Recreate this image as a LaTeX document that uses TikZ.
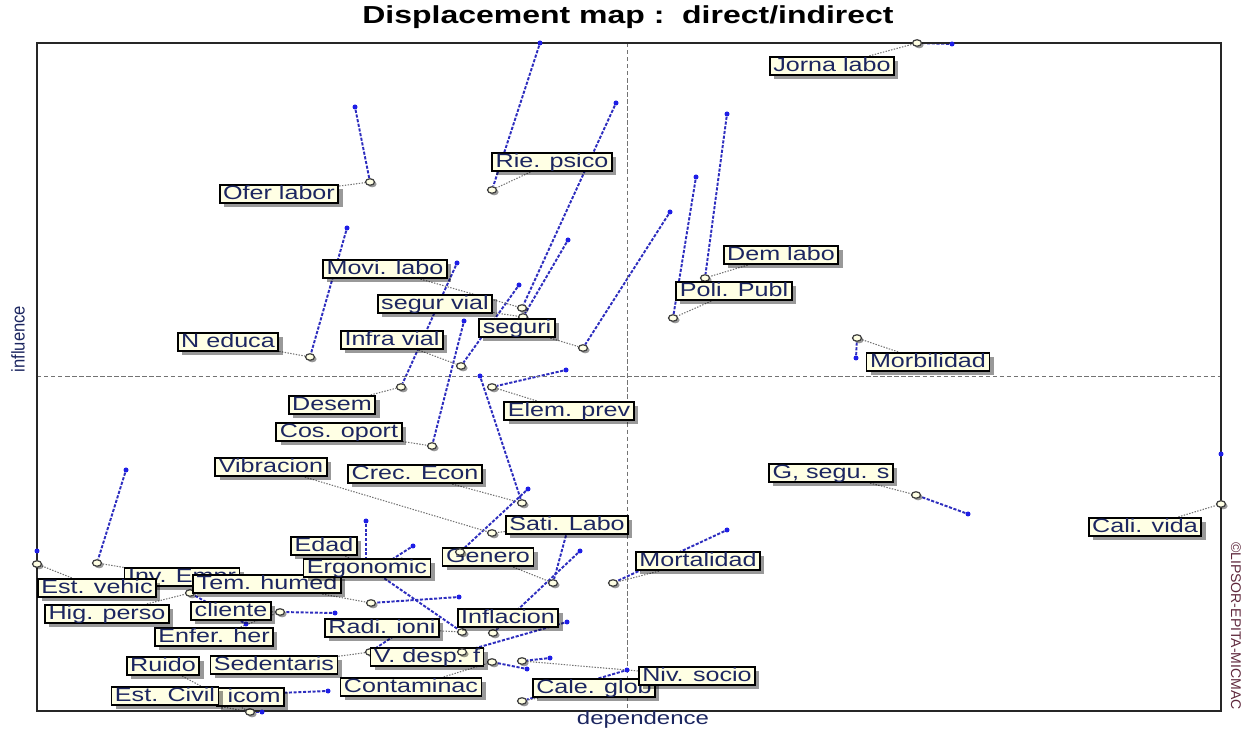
\documentclass[tikz,border=0pt]{standalone}
\usepackage{graphicx}
\usepackage{fontspec}
\setmainfont{Liberation Sans}
\newfontfamily\wideLS[FakeStretch=1.3]{Liberation Sans}
\usetikzlibrary{shapes.geometric,shadows,backgrounds}
\definecolor{labfill}{RGB}{255,255,228}
\definecolor{labtext}{RGB}{28,38,96}
\definecolor{dotblue}{RGB}{30,30,230}
\definecolor{lineblue}{RGB}{45,45,190}
\definecolor{copytext}{RGB}{95,40,60}
\tikzset{
  lab/.style={draw=black, line width=1pt, fill=labfill, text=labtext,
    font=\wideLS\fontsize{11}{13}\selectfont, inner xsep=2pt, inner ysep=0pt,
    text height=8.2pt, text depth=2.3pt,
    drop shadow={shadow xshift=2.4pt, shadow yshift=-2.4pt, fill=black, opacity=0.4}},
  ind/.style={ellipse, draw=black!75, line width=0.7pt, fill=labfill, inner sep=0pt,
    minimum width=0.18cm, minimum height=0.13cm,
    drop shadow={shadow xshift=1.2pt, shadow yshift=-1.2pt, fill=black, opacity=0.4}},
  dir/.style={circle, fill=dotblue, inner sep=0pt, minimum size=0.1cm},
  disp/.style={lineblue, line width=1.1pt, dash pattern=on 1.8pt off 0.9pt},
  lead/.style={black!55, line width=0.6pt, dash pattern=on 0.8pt off 0.8pt},
  quad/.style={black!55, line width=0.5pt, dash pattern=on 2.5pt off 1.5pt},
  frame/.style={black!85, line width=1.1pt}
}
\begin{document}
\begin{tikzpicture}[x=0.02cm,y=-0.02cm]
\useasboundingbox (0,0) rectangle (1247,732);
% frame and quadrant lines
\draw[quad] (627,43) -- (627,711);
\draw[quad] (37,376) -- (1221,376);
\draw[frame] (37,43) rectangle (1221,711);
% titles
\node[font=\wideLS\bfseries\fontsize{14}{16}\selectfont] (title) at (628,17) {Displacement map :~~direct/indirect};
\node[font=\wideLS\fontsize{10.5}{12}\selectfont, text=labtext] (xlab) at (643,720) {dependence};
\node[rotate=90, font=\fontsize{10.5}{12}\selectfont, text=labtext] (ylab) at (18,339) {\scalebox{0.9}[1]{influence}};
\node[rotate=-90, font=\fontsize{8}{9}\selectfont, text=copytext] (copy) at (1236,626) {\textcopyright LIPSOR-EPITA-MICMAC};
% indirect positions
\foreach \n/\x/\y in {ofer/370/182, rie/492/190, neduca/310/357, movi/522/308, segvial/523/317,
  seguri/583/348, infra/461/366, desem/401/387, cos/432/446, elem/492/387, crec/522/503,
  vibra/492/533, jorna/917/43, dem/705/278, poli/673/318, morb/857/338, gsegu/916/495,
  cali/1221/504, mortal/613/583, estveh/37/564, inv/97/563, temh/371/603, edad/366/566,
  ergo/388/562, cliente/280/612, hig/190/593, ruido/250/712, icom/278/693, sedent/370/652,
  radi/462/632, infl/493/633, sati/553/583, contam/492/662, niv/522/661, cale/522/701}
  \node[ind] (c\n) at (\x,\y) {};
% direct positions
\foreach \n/\x/\y in {ofer/355/107, rie/540/43, neduca/347/228, movi/616/103, segvial/568/240,
  seguri/670/212, infra/519/285, desem/457/263, cos/464/321, elem/566/370, crec/480/376,
  jorna/952/44, dem/727/114, poli/696/177, morb/856/358, gsegu/968/514, cali/1221/454,
  mortal/727/530, estveh/37/551, inv/126/470, temh/459/597, edad/366/521, ergo/413/546,
  cliente/335/613, hig/246/624, ruido/262/712, icom/328/691, sedent/400/632, radi/378/574,
  infl/580/551, sati/568/528, contam/527/669, niv/550/658, cale/627/670, genero/528/489,
  vdesp/567/622}
  \node[dir] (d\n) at (\x,\y) {};
% labels
\node[lab] (lofer) at (279,194) {Ofer labor};
\node[lab] (lrie) at (552,162) {Rie. psico};
\node[lab] (lneduca) at (228,342) {N educa};
\node[lab] (lmovi) at (385,269) {Movi. labo};
\node[lab] (lsegvial) at (435,304) {segur vial};
\node[lab] (lseguri) at (517,328) {seguri};
\node[lab] (linfra) at (392,340) {Infra vial};
\node[lab] (ldesem) at (332,405) {Desem};
\node[lab] (lcos) at (339,432) {Cos. oport};
\node[lab] (lelem) at (569,411) {Elem. prev};
\node[lab] (lcrec) at (415,474) {Crec. Econ};
\node[lab] (lvibra) at (271,467) {Vibracion};
\node[lab] (ljorna) at (832,66) {Jorna labo};
\node[lab] (ldem) at (781,255) {Dem labo};
\node[lab] (lpoli) at (734,291) {Poli. Publ};
\node[lab] (lmorb) at (928,362) {Morbilidad};
\node[lab] (lgsegu) at (831,473) {G, segu. s};
\node[lab] (lcali) at (1145,527) {Cali. vida};
\node[lab] (lmortal) at (698,561) {Mortalidad};
\node[lab] (lsati) at (567,525) {Sati. Labo};
\node[lab] (lgenero) at (488,557) {Genero};
\node[lab] (ledad) at (324,546) {Edad};
\node[lab] (linv) at (182,577) {Inv. Empr};
\node[lab] (lestveh) at (97,588) {Est. vehic};
\node[lab] (ltemh) at (267,584) {Tem. humed};
\node[lab] (lergo) at (367,568) {Ergonomic};
\node[lab] (lhig) at (107,614) {Hig. perso};
\node[lab] (lcliente) at (231,611) {cliente};
\node[lab] (lenfer) at (214,637) {Enfer. her};
\node[lab] (lradi) at (382,628) {Radi. ioni};
\node[lab] (linfl) at (508,618) {Inflacion};
\node[lab] (lruido) at (163,666) {Ruido};
\node[lab] (lsedent) at (274,665) {Sedentaris};
\node[lab] (lvdesp) at (427,657) {V. desp. f};
\node[lab] (lcontam) at (411,687) {Contaminac};
\node[lab] (lcale) at (594,688) {Cale. glob};
\node[lab] (lniv) at (697,676) {Niv. socio};
\node[lab, text width=1.2cm, align=right, anchor=east] (licom) at (285,697) {icom};
\node[lab] (lcivil) at (165,696) {Est. Civil};
% markers lying on top of labels
\foreach \n/\x/\y in {genero/460/552, vdesp/462/652}
  \node[ind] (c\n) at (\x,\y) {};
% displacements and leaders
\begin{scope}[on background layer]
\foreach \n in {ofer,rie,neduca,movi,segvial,seguri,infra,desem,cos,elem,crec,jorna,dem,
  poli,morb,gsegu,cali,mortal,estveh,inv,temh,edad,ergo,cliente,hig,ruido,icom,sedent,
  radi,infl,sati,contam,niv,cale,genero,vdesp}
  \draw[disp] (d\n) -- (c\n);
\foreach \a/\b in {ofer/ofer, rie/rie, neduca/neduca, movi/movi, segvial/segvial,
  seguri/seguri, infra/infra, desem/desem, cos/cos, elem/elem, crec/crec, vibra/vibra,
  jorna/jorna, dem/dem, poli/poli, morb/morb, gsegu/gsegu, cali/cali, mortal/mortal,
  estveh/estveh, inv/inv, temh/temh, edad/edad, ergo/ergo, cliente/cliente, hig/hig,
  enfer/cliente, ruido/ruido, civil/ruido, icom/icom, sedent/sedent, radi/radi, infl/infl,
  sati/vibra, genero/sati, contam/contam, niv/niv, cale/cale, vdesp/vdesp}
  \draw[lead] (l\a) -- (c\b);
\end{scope}
\end{tikzpicture}
\end{document}
